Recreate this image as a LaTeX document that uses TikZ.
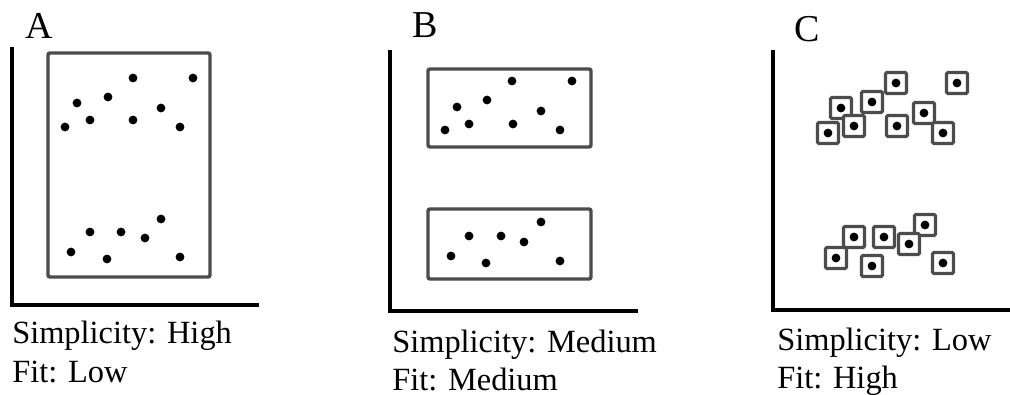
\documentclass[tikz,border=0pt]{standalone}
\usepackage{fontspec}
\setmainfont{Liberation Serif}
\usetikzlibrary{positioning}

\begin{document}
\begin{tikzpicture}[
    x=0.75pt, y=-0.75pt,
    dot/.style={circle, fill=black, inner sep=0pt, minimum size=6.6pt},
    pick/.style={rectangle, draw=black!70, fill=white, line width=2.4pt, rounded corners=1pt, inner sep=0pt, minimum size=15.75pt},
    frame/.style={draw=black!70, line width=2.6pt, rounded corners=1.5pt},
    axis/.style={draw, line width=3pt},
    title/.style={anchor=base west, inner sep=0pt, font=\fontsize{28.5}{34}\selectfont},
    caption/.style={anchor=base west, inner sep=0pt, font=\fontsize{24.3}{30}\selectfont}
]
\useasboundingbox (0,0) rectangle (1010,395);

% Panel A
\node [title] (tA) at (25,39) {A};
\coordinate (yA) at (12,47);
\coordinate (xA) at (259,305);
\draw [axis] (yA) |- (xA);
\draw [frame] (48,53) rectangle (210,277);
\foreach \px/\py [count=\i] in {133/78, 193/78, 77/103, 108/97, 161/108, 65/127, 90/120, 133/120, 180/127,
    161/219, 90/232, 121/232, 145/238, 71/252, 107/259, 180/257}
    \node [dot] (a\i) at (\px,\py) {};
\node [caption] (simpA) at (12,343) {Simplicity: High};
\node [caption] (fitA) at (12,382) {Fit: Low};

% Panel B
\node [title] (tB) at (412,38) {B};
\coordinate (yB) at (390,50);
\coordinate (xB) at (638,311);
\draw [axis] (yB) |- (xB);
\draw [frame] (428,69) rectangle (591,147);
\draw [frame] (428,209) rectangle (591,279);
\foreach \px/\py [count=\i] in {512/81, 572/81, 457/107, 487/100, 541/111, 445/130, 469/124, 513/124, 560/130,
    541/222, 469/236, 501/236, 524/242, 451/256, 486/263, 560/261}
    \node [dot] (b\i) at (\px,\py) {};
\node [caption] (simpB) at (392,352) {Simplicity: Medium};
\node [caption] (fitB) at (392,390) {Fit: Medium};

% Panel C
\node [title] (tC) at (794,42) {C};
\coordinate (yC) at (773,50);
\coordinate (xC) at (1010,310);
\draw [axis] (yC) |- (xC);
\foreach \px/\py [count=\i] in {896/83, 957/83, 841/108, 872/102, 924/113, 828/133, 854/126, 897/126, 943/133,
    925/225, 854/237, 884/237, 909/244, 836/258, 872/266, 943/263} {
    \node [pick] (cp\i) at (\px,\py) {};
    \node [dot] (c\i) at (cp\i) {};
}
\node [caption] (simpC) at (777,350) {Simplicity: Low};
\node [caption] (fitC) at (777,388) {Fit: High};

\end{tikzpicture}
\end{document}
